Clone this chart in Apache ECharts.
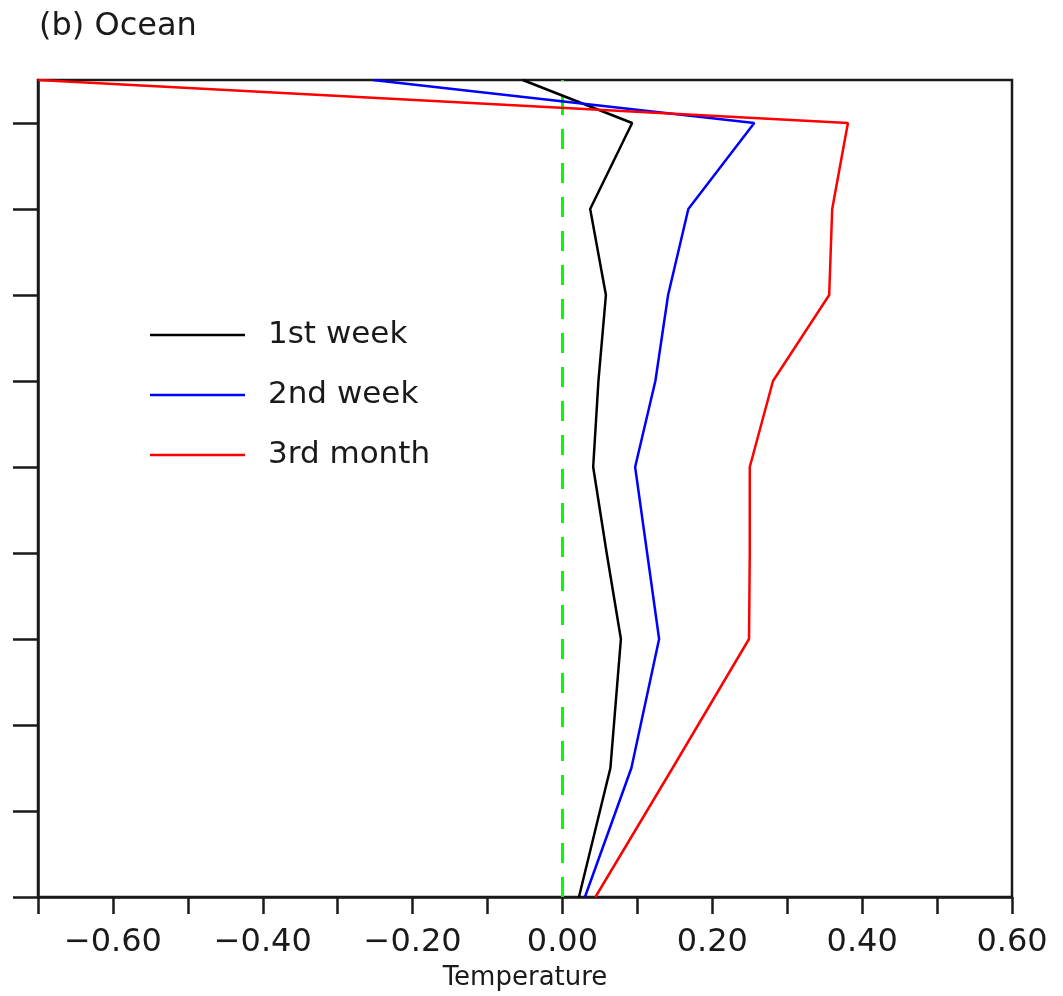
<!DOCTYPE html>
<html>
<head>
<meta charset="utf-8">
<script src="https://cdn.jsdelivr.net/npm/echarts@6/dist/echarts.min.js"></script>
<style>
  html, body { margin: 0; padding: 0; background: #fff; }
  #chart { width: 1063px; height: 996px; }
</style>
</head>
<body>
<div id="chart"></div>
<script>
// vertical levels (plot units, 0 = bottom of frame, 19 = top)
const levels = [19, 18, 16, 14, 12, 10, 8, 6, 3, 0];

const week1 = [-0.053, 0.093, 0.037, 0.058, 0.048, 0.041, 0.059, 0.078, 0.064, 0.022];
const week2 = [-0.253, 0.256, 0.168, 0.141, 0.124, 0.097, 0.113, 0.129, 0.092, 0.030];
const month3 = [-0.70, 0.381, 0.360, 0.356, 0.281, 0.250, 0.250, 0.249, 0.147, 0.044];

const seriesNames = ['1st week', '2nd week', '3rd month'];
const seriesColors = ['#000000', '#0000ff', '#ff0000'];

const xTicks = [-0.7, -0.6, -0.5, -0.4, -0.3, -0.2, -0.1, 0, 0.1, 0.2, 0.3, 0.4, 0.5, 0.6];
const xLabels = [-0.6, -0.4, -0.2, 0, 0.2, 0.4, 0.6];
const yTicks = [0, 2, 4, 6, 8, 10, 12, 14, 16, 18];

const FONT = 'DejaVu Sans';
const INK = '#1a1a1a';

function pairs(values) {
    return values.map((v, i) => [v, levels[i]]);
}

function fmtTick(v) {
    const s = Math.abs(v).toFixed(2);
    return v < -1e-9 ? '\u2212' + s : s;
}

const profiles = [week1, week2, month3];

const series = profiles.map((vals, i) => ({
    name: seriesNames[i],
    type: 'line',
    data: pairs(vals),
    symbol: 'none',
    lineStyle: { color: seriesColors[i], width: 2.5 },
    itemStyle: { color: seriesColors[i] },
    z: 3 + i
}));

series[0].markLine = {
    silent: true,
    symbol: 'none',
    label: { show: false },
    lineStyle: { color: '#00ff00', width: 3, type: [20, 14] },
    data: [{ xAxis: 0 }],
    z: 2
};

const option = {
    animation: false,
    backgroundColor: '#ffffff',
    title: {
        text: '(b) Ocean',
        left: 34,
        top: 6,
        textStyle: { fontFamily: FONT, fontSize: 32, fontWeight: 'normal', color: INK }
    },
    grid: {
        left: 38, right: 51, top: 80, bottom: 96,
        show: true,
        borderColor: INK,
        borderWidth: 2.5,
        backgroundColor: 'transparent'
    },
    legend: {
        orient: 'vertical',
        left: 145,
        top: 313,
        icon: 'rect',
        itemWidth: 95,
        itemHeight: 2.5,
        itemGap: 26,
        selectedMode: false,
        data: seriesNames,
        textStyle: {
            fontFamily: FONT, fontSize: 31, color: INK,
            lineHeight: 34, padding: [0, 0, 0, 18]
        }
    },
    xAxis: {
        type: 'value',
        min: -0.7,
        max: 0.6,
        name: 'Temperature',
        nameLocation: 'middle',
        nameGap: 68,
        nameTextStyle: { fontFamily: FONT, fontSize: 26, color: INK },
        axisLine: { show: true, onZero: false, lineStyle: { color: INK, width: 2.5 } },
        axisTick: {
            show: true, inside: false, length: 17,
            customValues: xTicks,
            lineStyle: { color: INK, width: 2.5 }
        },
        axisLabel: {
            show: true, margin: 30,
            customValues: xLabels,
            formatter: fmtTick,
            fontFamily: FONT, fontSize: 32, color: INK
        },
        splitLine: { show: false }
    },
    yAxis: {
        type: 'value',
        min: 0,
        max: 19,
        axisLine: { show: true, onZero: false, lineStyle: { color: INK, width: 2.5 } },
        axisTick: {
            show: true, inside: false, length: 25,
            customValues: yTicks,
            lineStyle: { color: INK, width: 2.5 }
        },
        axisLabel: { show: false },
        splitLine: { show: false }
    },
    series: series
};

const chart = echarts.init(document.getElementById('chart'));
chart.setOption(option);
</script>
</body>
</html>
